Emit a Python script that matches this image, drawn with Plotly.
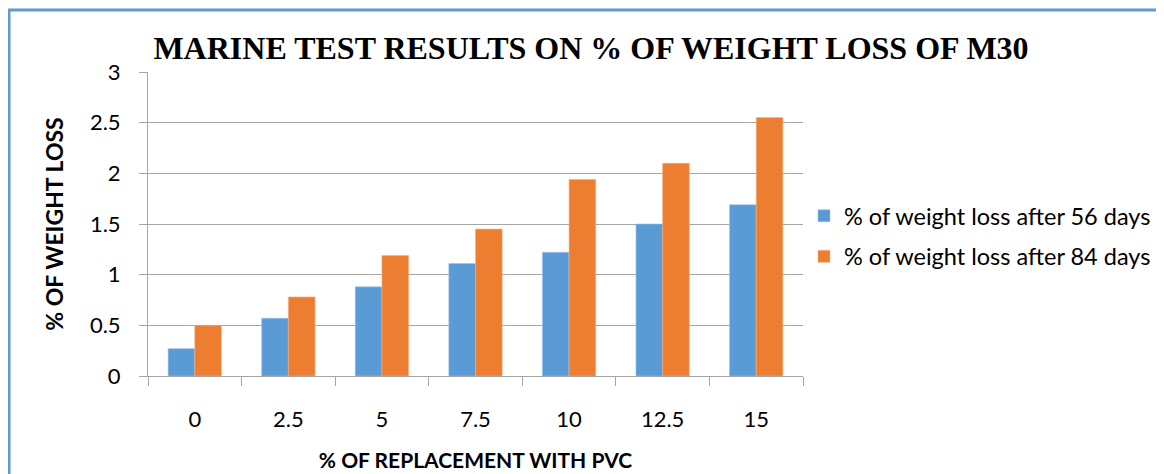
import plotly.graph_objects as go

categories = ["0", "2.5", "5", "7.5", "10", "12.5", "15"]
loss_56 = [0.27, 0.57, 0.88, 1.11, 1.22, 1.50, 1.69]
loss_84 = [0.50, 0.78, 1.19, 1.45, 1.94, 2.10, 2.55]
y_ticks = [0, 0.5, 1, 1.5, 2, 2.5, 3]
y_tick_text = ["0", "0.5", "1", "1.5", "2", "2.5", "3"]

# page body has an 8px margin, so layout coordinates = picture pixels - 8
OFF = 8
W, H = 1164, 474
L, R, T, B = 148 - OFF, 803 - OFF, 72 - OFF, 376 - OFF

fig = go.Figure()
fig.add_bar(x=categories, y=loss_56, name="% of weight loss after 56 days",
            legendgroup="a",
            marker=dict(color="#5B9BD5", line=dict(color="#9DC3E6", width=0.6)))
fig.add_bar(x=categories, y=loss_84, name="% of weight loss after 84 days",
            legendgroup="b",
            marker=dict(color="#ED7D31", line=dict(color="#F4B183", width=0.6)))

def px_x(p):
    return (p - OFF - L) / (R - L)

def px_y(p):
    return (B - (p - OFF)) / (B - T)

fig.update_layout(
    width=W, height=H,
    margin=dict(l=L, r=W - R, t=T, b=H - B, autoexpand=False),
    paper_bgcolor="white", plot_bgcolor="white",
    barmode="group", bargap=0.43, bargroupgap=0,
    font=dict(family="Lato, Carlito, sans-serif", color="#000000"),
    title=dict(text="<b>MARINE TEST RESULTS ON % OF WEIGHT LOSS OF M30</b>",
               font=dict(family="Liberation Serif, Times New Roman, serif", size=32, color="#000"),
               x=(591 - OFF) / W, xanchor="center", y=1 - (48 - OFF) / H, yanchor="middle"),
    legend=dict(x=px_x(804), y=px_y(194), xanchor="left", yanchor="top",
                font=dict(size=23.5), traceorder="grouped", tracegroupgap=7, itemwidth=30,
                bgcolor="rgba(0,0,0,0)"),
    xaxis=dict(type="category", tickson="boundaries", ticks="outside", ticklen=9,
               tickcolor="#A6A6A6", tickwidth=1, showline=True, linecolor="#A6A6A6",
               linewidth=1, tickfont=dict(size=22), ticklabelstandoff=24,
               title=dict(text="<b>% OF REPLACEMENT WITH PVC</b>", font=dict(size=21), standoff=21),
               showgrid=False),
    yaxis=dict(range=[0, 3], tickvals=y_ticks, ticktext=y_tick_text, ticks="outside",
               ticklen=8, tickcolor="#A6A6A6", showline=True, linecolor="#A6A6A6",
               showgrid=True, gridcolor="#A6A6A6", gridwidth=1, zeroline=False,
               tickfont=dict(size=22), ticklabelstandoff=14,
               title=dict(text="<b>% OF WEIGHT LOSS</b>", font=dict(size=23), standoff=19)),
)

fig.add_shape(type="rect", xref="paper", yref="paper",
              x0=px_x(9), x1=px_x(1190), y0=px_y(10), y1=px_y(520),
              line=dict(color="#5B9BD5", width=3), layer="above")

fig.write_html("out.html")
